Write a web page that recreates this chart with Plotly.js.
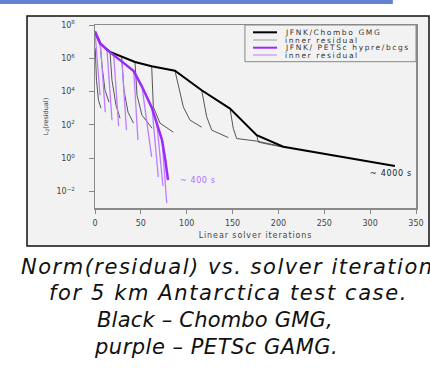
<!DOCTYPE html>
<html>
<head>
<meta charset="utf-8">
<script src="https://cdn.plot.ly/plotly-3.0.1.min.js"></script>
<style>html,body{margin:0;padding:0;background:#fff;}#chart{width:430px;height:373px;}</style>
</head>
<body>
<div id="chart"></div>
<script>
// ---- data ----
const chomboIter = [0, 5.5, 16.4, 29.1, 43.6, 61.8, 87.2, 116.3, 147.2, 176.3, 205.3, 327];
const chomboRes  = [4.0e7, 7.6e6, 2.4e6, 1.2e6, 6.0e5, 3.3e5, 1.8e5, 1.2e4, 950, 24, 4.8, 0.33];

const petscIter = [0, 5.8, 13.1, 20.4, 29.4, 42.2, 51.2, 62.2, 67.6, 73.1, 76.7, 79.6];
const petscRes  = [4.0e7, 7.9e6, 3.2e6, 1.6e6, 6.3e5, 1.7e5, 2.0e4, 1.0e3, 100, 12, 0.76, 0.048];

// inner (linear) residual histories, one list per Newton step
const chomboInnerIter = [
  [0.3, 1.6, 3.8, 6.5],
  [5.5, 7.6, 10.9, 15.3],
  [16.4, 18.5, 22.9, 27.3],
  [29.1, 31.6, 36.0, 42.0],
  [43.6, 45.8, 51.2, 62.2],
  [61.8, 63.6, 70.9, 85.4],
  [87.2, 96.3, 103.6, 116.3],
  [116.3, 121.8, 127.3, 145.4],
  [147.2, 150.8, 154.5, 176.3, 205.0],
  [176.3, 178.1, 190.8, 205.0]
];
const chomboInnerRes = [
  [4.0e6, 4.8e4, 3.0e3, 1.0e3],
  [7.6e6, 3.8e5, 1.2e4, 2.3e3],
  [2.4e6, 4.8e4, 1.5e3, 250],
  [1.2e6, 1.2e4, 575, 126],
  [6.0e5, 6.0e3, 380, 63],
  [3.3e5, 1.2e3, 126, 36],
  [1.8e5, 1.2e3, 190, 72],
  [1.2e4, 300, 48, 17],
  [950, 60, 15, 10.5, 4.8],
  [24, 9.1, 6.5, 4.6]
];

const petscInnerIter = [
  [0, 5.5], [5.8, 11.2], [13.1, 18.5], [20.4, 25.8], [29.4, 34.3],
  [42.2, 46.9], [51.2, 61.8], [62.2, 69.0], [67.6, 74.1], [73.1, 78.2]
];
const petscInnerRes = [
  [4.0e7, 6.0e3], [7.9e6, 575], [3.2e6, 190], [1.6e6, 83], [6.3e5, 48],
  [1.7e5, 12], [2.0e4, 1.15], [1.0e3, 0.072], [100, 0.021], [12, 0.002]
];

const yTickVals = [1e-2, 1e0, 1e2, 1e4, 1e6, 1e8];
const yTickText = ['10<sup>−2</sup>', '10<sup>0</sup>', '10<sup>2</sup>', '10<sup>4</sup>', '10<sup>6</sup>', '10<sup>8</sup>'];
const xTickVals = [0, 50, 100, 150, 200, 250, 300, 350];

const legendNames = ['JFNK/Chombo GMG', 'inner residual', 'JFNK/ PETSc hypre/bcgs', 'inner residual'];
const captionLines = [
  'Norm(residual) vs. solver iterations',
  'for 5 km Antarctica test case.',
  'Black – Chombo GMG,',
  'purple – PETSc GAMG.'
];

// ---- styles ----
const C_BLACK = '#000000', C_GRAY = '#555555', C_PURPLE = '#9a2cf5', C_LPURPLE = '#bd7dff';
const legendStyles = [
  {color: C_BLACK, width: 2},
  {color: '#9a9a9a', width: 1},
  {color: C_PURPLE, width: 2},
  {color: C_LPURPLE, width: 1}
];
const spaced = (t, s) => '<span style="letter-spacing:' + s + 'px">' + t + '</span>';

const traces = [];
chomboInnerIter.forEach((xs, i) => traces.push({
  x: xs, y: chomboInnerRes[i], type: 'scatter', mode: 'lines',
  line: {color: C_GRAY, width: 1}, hoverinfo: 'skip'
}));
traces.push({x: chomboIter, y: chomboRes, type: 'scatter', mode: 'lines',
  line: {color: C_BLACK, width: 2}, name: legendNames[0]});
petscInnerIter.forEach((xs, i) => traces.push({
  x: xs, y: petscInnerRes[i], type: 'scatter', mode: 'lines',
  line: {color: C_LPURPLE, width: 1.3}, hoverinfo: 'skip'
}));
traces.push({x: petscIter, y: petscRes, type: 'scatter', mode: 'lines',
  line: {color: C_PURPLE, width: 2.5}, name: legendNames[2]});

// ---- manual legend & decorations ----
const shapes = [
  {type: 'rect', xref: 'paper', yref: 'paper', x0: -0.296, x1: 0.928, y0: 1.1148, y1: 1.1366,
   fillcolor: '#6482d2', line: {width: 0}, layer: 'below'},
  {type: 'rect', xref: 'paper', yref: 'paper', x0: -0.2118, x1: 1.0405, y0: -0.2077, y1: 1.0492,
   fillcolor: '#f2f2f2', line: {color: '#111', width: 1.5}, layer: 'below'},
  {type: 'rect', xref: 'paper', yref: 'paper', x0: 0.467, x1: 1.0, y0: 0.7995, y1: 1.0,
   fillcolor: 'rgba(0,0,0,0)', line: {color: '#888', width: 1}}
];
const legendY = [0.960, 0.918, 0.876, 0.836];
const annotations = [];
legendNames.forEach((name, i) => {
  shapes.push({type: 'line', xref: 'paper', yref: 'paper', x0: 0.4922, x1: 0.567,
    y0: legendY[i], y1: legendY[i], line: legendStyles[i]});
  annotations.push({xref: 'paper', yref: 'paper', x: 0.5888, y: legendY[i], text: spaced(name, 1.6),
    showarrow: false, xanchor: 'left', yanchor: 'middle', borderpad: 0,
    font: {family: 'DejaVu Sans', size: 7.5, color: '#333'}});
});
annotations.push({x: 90.5, y: -1.36, xref: 'x', yref: 'y', text: spaced('~ 400 s', 0.6), showarrow: false,
  xanchor: 'left', yanchor: 'middle', font: {family: 'DejaVu Sans', size: 8, color: '#b070ff'}});
annotations.push({x: 297.7, y: -0.90, xref: 'x', yref: 'y', text: spaced('~ 4000 s', 0.7), showarrow: false,
  xanchor: 'left', yanchor: 'middle', font: {family: 'DejaVu Sans', size: 8, color: '#222'}});

const capX = [0.433, 0.4174, 0.3738, 0.377];
const capY = [-0.3224, -0.4645, -0.612, -0.7596];
const capSpacing = [1.5, 1.6, 0.2, 0.5];
captionLines.forEach((t, i) => annotations.push({
  xref: 'paper', yref: 'paper', x: capX[i], y: capY[i],
  text: spaced(t, capSpacing[i]), showarrow: false,
  xanchor: 'center', yanchor: 'middle',
  font: {family: 'DejaVu Sans', size: 21, color: '#111', style: 'italic'}
}));

const layout = {
  width: 430, height: 373,
  margin: {l: 95, r: 14, t: 25, b: 165, pad: 0},
  paper_bgcolor: '#ffffff', plot_bgcolor: 'rgba(0,0,0,0)',
  showlegend: false,
  font: {family: 'DejaVu Sans', size: 8, color: '#444'},
  xaxis: {
    range: [0, 350], tickvals: xTickVals, ticks: 'outside', ticklen: 4, tickcolor: '#888',
    showline: true, linecolor: '#8a8a8a', linewidth: 1.5, mirror: true,
    showgrid: false, zeroline: false, ticklabelstandoff: 3,
    tickfont: {family: 'DejaVu Sans', size: 8, color: '#444'},
    title: {text: spaced('Linear solver iterations', 0.9), standoff: 5,
      font: {family: 'DejaVu Sans', size: 8, color: '#444'}}
  },
  yaxis: {
    type: 'log', range: [-3, 8], tickvals: yTickVals, ticktext: yTickText,
    ticks: 'outside', ticklen: 5, tickcolor: '#888',
    showline: true, linecolor: '#8a8a8a', linewidth: 1.5, mirror: true,
    showgrid: false, zeroline: false, ticklabelstandoff: 12,
    tickfont: {family: 'DejaVu Sans', size: 8, color: '#444'},
    title: {text: 'L<sub>2</sub>(residual)', standoff: 7,
      font: {family: 'DejaVu Sans', size: 6.5, color: '#444'}}
  },
  shapes: shapes,
  annotations: annotations
};

Plotly.newPlot('chart', traces, layout, {displayModeBar: false, staticPlot: true});
</script>
</body>
</html>
